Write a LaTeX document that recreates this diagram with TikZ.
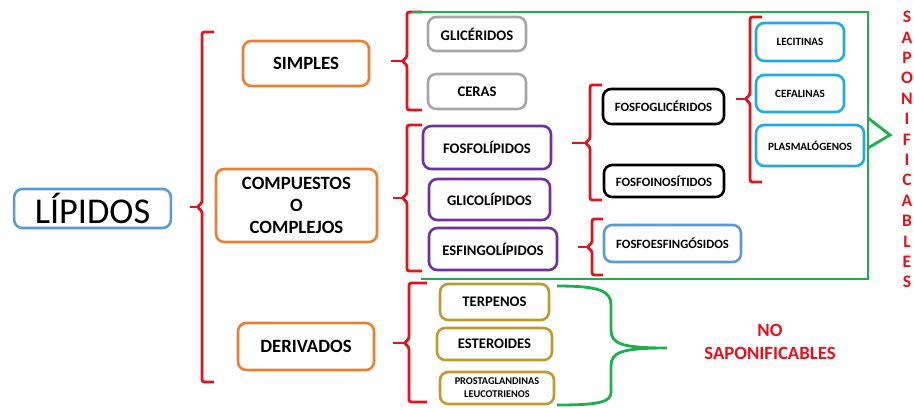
\documentclass[tikz,border=0pt]{standalone}
\usepackage{fontspec}
\setmainfont{Carlito}
\definecolor{lorange}{HTML}{ED7D31}
\definecolor{lgray}{HTML}{A6A6A6}
\definecolor{lpurple}{HTML}{7030A0}
\definecolor{lcyan}{HTML}{1FAAE2}
\definecolor{lsteel}{HTML}{5B9BD5}
\definecolor{lgold}{HTML}{BF9A2E}
\definecolor{lred}{HTML}{E8101A}
\definecolor{lgreen}{HTML}{1DAF4E}
\begin{document}
\begin{tikzpicture}[x=0.03cm, y=-0.03cm,
    box/.style={draw, rounded corners=7pt, line width=2.2pt, inner sep=0pt, align=center, font=\bfseries},
    mainbox/.style={box, draw=lorange, font=\bfseries\fontsize{16}{19}\selectfont},
    subbox/.style={box, font=\bfseries\fontsize{12.5}{15}\selectfont},
    smallbox/.style={box, font=\bfseries\fontsize{10.8}{13}\selectfont},
    tinybox/.style={box, draw=lcyan, font=\bfseries\fontsize{9.5}{11}\selectfont},
    brace/.style={lred, line width=2.4pt, rounded corners=2pt},
    gbrace/.style={lgreen, line width=2.4pt}]
        \useasboundingbox (0,0) rectangle (914,407);

        % Root
        \node[box, draw=lsteel, font=\fontsize{31}{36}\selectfont, minimum width=4.7cm, minimum height=1.17cm] (lipidos) at (92.5,208.5) {LÍPIDOS};

        % First level
        \node[mainbox, minimum width=3.78cm, minimum height=1.35cm] (simples) at (306,63.5) {SIMPLES};
        \node[mainbox, minimum width=4.83cm, minimum height=2.19cm] (compuestos) at (296.5,205.5) {COMPUESTOS\\O\\COMPLEJOS};
        \node[mainbox, minimum width=4.08cm, minimum height=1.41cm] (derivados) at (306,346.5) {DERIVADOS};

        % Simples
        \node[subbox, draw=lgray, minimum width=2.94cm, minimum height=1.02cm] (gliceridos) at (477,34) {GLICÉRIDOS};
        \node[subbox, draw=lgray, minimum width=2.94cm, minimum height=1.05cm] (ceras) at (477,91.5) {CERAS};

        % Compuestos o complejos
        \node[subbox, draw=lpurple, minimum width=3.84cm, minimum height=1.29cm] (fosfolipidos) at (487,147.5) {FOSFOLÍPIDOS};
        \node[subbox, draw=lpurple, minimum width=3.63cm, minimum height=1.23cm] (glicolipidos) at (489.5,199.5) {GLICOLÍPIDOS};
        \node[subbox, draw=lpurple, minimum width=3.84cm, minimum height=1.26cm] (esfingolipidos) at (493,249) {ESFINGOLÍPIDOS};

        \node[smallbox, draw=black, minimum width=3.63cm, minimum height=1.05cm] (fosfogliceridos) at (663.5,106.5) {FOSFOGLICÉRIDOS};
        \node[smallbox, draw=black, minimum width=3.6cm, minimum height=0.96cm] (fosfoinositidos) at (664,181) {FOSFOINOSÍTIDOS};
        \node[smallbox, draw=lsteel, minimum width=4.11cm, minimum height=1.11cm] (fosfoesfingosidos) at (672.5,243.5) {FOSFOESFINGÓSIDOS};

        \node[tinybox, minimum width=2.64cm, minimum height=1.14cm] (lecitinas) at (800,42) {LECITINAS};
        \node[tinybox, minimum width=2.64cm, minimum height=1.11cm] (cefalinas) at (800,93.5) {CEFALINAS};
        \node[tinybox, minimum width=3.24cm, minimum height=1.23cm] (plasmalogenos) at (810,145.5) {PLASMALÓGENOS};

        % Derivados
        \node[subbox, draw=lgold, minimum width=3.27cm, minimum height=1.08cm] (terpenos) at (494.5,302) {TERPENOS};
        \node[subbox, draw=lgold, minimum width=3.45cm, minimum height=0.96cm] (esteroides) at (494.5,344) {ESTEROIDES};
        \node[box, draw=lgold, font=\bfseries\fontsize{8.8}{11}\selectfont, minimum width=3.42cm, minimum height=0.96cm] (prostaglandinas) at (497,388) {PROSTAGLANDINAS\\LEUCOTRIENOS};

        % Red brackets
        \foreach \bx/\ty/\my/\by/\tx/\hx in {202/32/207/382/190/214, 407/12/61/110/391/422, 407/125/198/271/393/422,
                409/283/343/402/393/427, 590/85/143/200/572/602, 750/17/99/182/736/762, 592/219/247/275/578/603} {
            \draw[brace] (\hx,\ty) -- (\bx,\ty) -- (\bx,\my-4) -- (\bx-5,\my) -- (\bx,\my+4) -- (\bx,\by) -- (\hx,\by);
            \draw[brace] (\tx,\my) -- (\bx-5,\my);
        }

        % Saponificables
        \draw[gbrace] (412,12) -- (868,12) -- (868,279) -- (421,279);
        \draw[gbrace, line join=miter] (868,118) -- (890,135) -- (868,148);
        \foreach \l [count=\i from 0] in {S,A,P,O,N,I,F,I,C,A,B,L,E,S} {
            \node[font=\bfseries\fontsize{15}{17}\selectfont, text=lred, inner sep=0pt] (sap\i) at (907,17+20.4*\i) {\l};
        }

        % No saponificables
        \draw[gbrace] (557,286) .. controls (600,286) and (611,291) .. (611,305) -- (611,330)
            .. controls (611,344) and (622,348) .. (667,348)
            .. controls (622,348) and (611,352) .. (611,366) -- (611,392)
            .. controls (611,402) and (600,405) .. (557,405);
        \node[font=\bfseries\fontsize{16}{20}\selectfont, text=lred, align=center] (nosap) at (770,342) {NO\\SAPONIFICABLES};
    \end{tikzpicture}
\end{document}
